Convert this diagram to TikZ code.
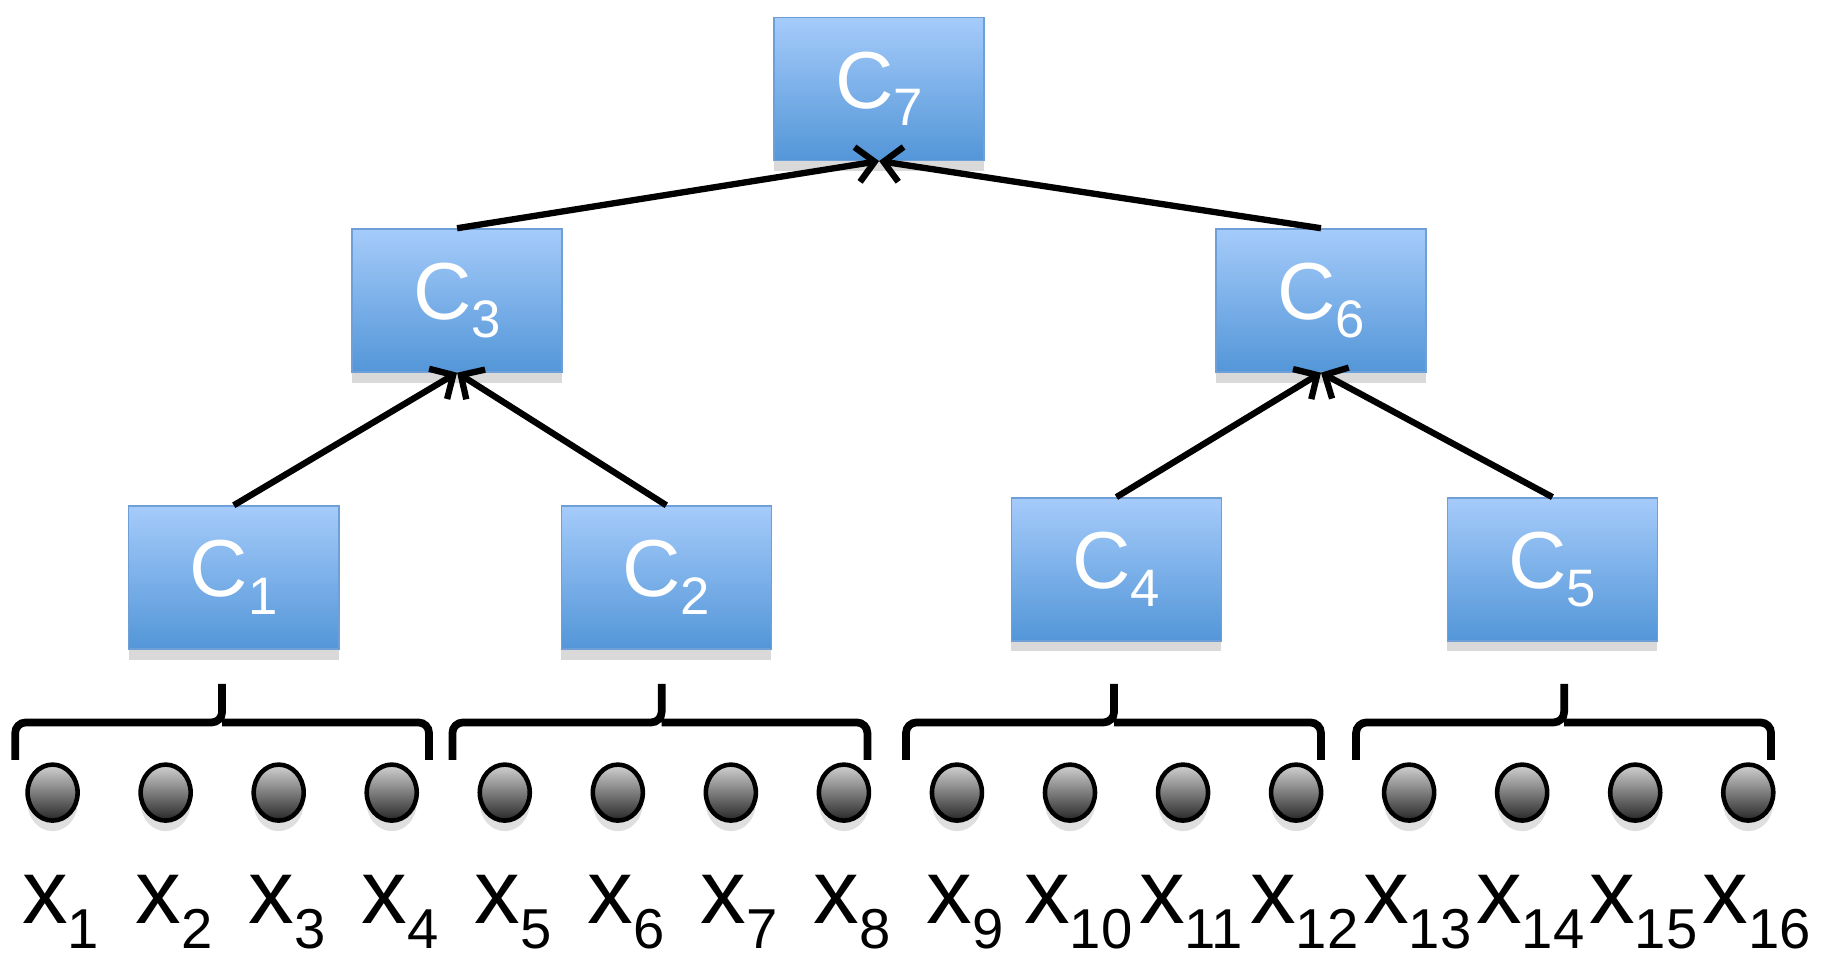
\documentclass[tikz,border=0pt]{standalone}
\usepackage{fontspec}
\setmainfont{Liberation Sans}
\usetikzlibrary{positioning,shadows,arrows.meta,shapes.geometric}
\definecolor{boxtop}{RGB}{165,203,250}
\definecolor{boxbot}{RGB}{83,150,216}
\definecolor{boxline}{RGB}{110,160,215}
\newcommand{\leaflabel}[1]{{\fontsize{26}{26}\selectfont x}{\fontsize{16}{16}\selectfont\raisebox{-7pt}{#1}}}
\newcommand{\clabel}[1]{{\fontsize{23}{23}\selectfont C}{\fontsize{15}{15}\selectfont\raisebox{-5pt}{#1}}}

\begin{document}
\begin{tikzpicture}[
    x=0.01169cm, y=-0.01169cm,
    cbox/.style={rectangle, draw=boxline, minimum width=2.1cm, minimum height=1.43cm,
      top color=boxtop, bottom color=boxbot, text=white,
      drop shadow={opacity=0.3, shadow xshift=0pt, shadow yshift=-3pt}},
    leaf/.style={ellipse, draw, line width=1.3pt, minimum width=0.5cm, minimum height=0.56cm, inner sep=0pt,
      top color=gray!35, bottom color=black!85,
      drop shadow={opacity=0.25, shadow xshift=0pt, shadow yshift=-3pt}},
    arrow/.style={-{Straight Barb[length=5pt,width=10pt]}, line width=1.8pt},
    brace/.style={line width=2.2pt, rounded corners=3pt}
]
    \useasboundingbox (0,0) rectangle (1568,825);

    \node[cbox] (c7) at (752,76) {\clabel{7}};
    \node[cbox] (c3) at (391,257) {\clabel{3}};
    \node[cbox] (c6) at (1130,257) {\clabel{6}};
    \node[cbox] (c1) at (200,494) {\clabel{1}};
    \node[cbox] (c2) at (570,494) {\clabel{2}};
    \node[cbox] (c4) at (955,487) {\clabel{4}};
    \node[cbox] (c5) at (1328,487) {\clabel{5}};

    \draw[arrow] (c3.north) -- (c7.south);
    \draw[arrow] (c6.north) -- (c7.south);
    \draw[arrow] (c1.north) -- (c3.south);
    \draw[arrow] (c2.north) -- (c3.south);
    \draw[arrow] (c4.north) -- (c6.south);
    \draw[arrow] (c5.north) -- (c6.south);

    % leaves and labels
    \foreach \i in {1,...,16} {
        \node[leaf] (x\i) at ({45+96.7*(\i-1)},678) {};
        \node[anchor=base] (lx\i) at ({52+96.7*(\i-1)},790) {\leaflabel{\i}};
    }

    % braces over groups of four
    \foreach \g/\l/\m/\r in {1/13/190/367, 2/387/566/742, 3/775/953/1130, 4/1160/1338/1515} {
        \coordinate (b\g) at (\m,585);
        \draw[brace] (\l,650) -- (\l,618) -- (\m,618) -- (b\g) (\m,618) -- (\r,618) -- (\r,650);
    }
\end{tikzpicture}
\end{document}
